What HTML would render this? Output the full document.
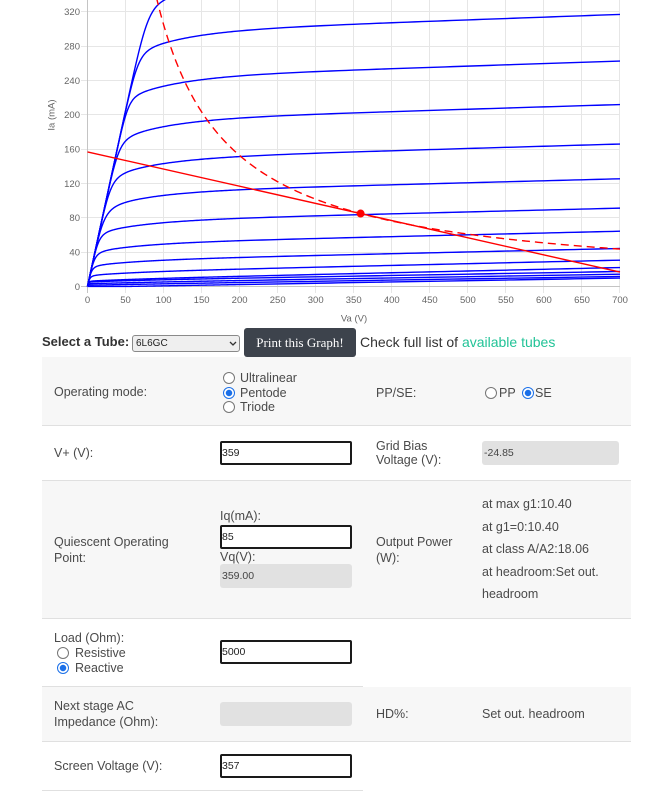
<!DOCTYPE html>
<html>
<head>
<meta charset="utf-8">
<style>
  html,body{margin:0;padding:0;}
  body{width:670px;height:791px;position:relative;overflow:hidden;background:#fff;font-family:"Liberation Sans",Arial,sans-serif;}
  .t{position:absolute;font-size:12.5px;line-height:14px;color:#4a4a4a;white-space:nowrap;}
  .row{position:absolute;left:42px;}
  .bg{background:#f7f7f7;}
  .bl{position:absolute;height:1px;background:#e0e0e0;}
  .inp{position:absolute;width:132px;height:24px;box-sizing:border-box;border:2px solid #1a1a1a;border-radius:2px;background:#fff;font-size:10.5px;line-height:20px;color:#222;padding-left:0px;}
  .gry{position:absolute;height:24px;box-sizing:border-box;border-radius:3px;background:#e1e1e1;font-size:10.5px;line-height:24px;color:#444;padding-left:2px;}
  .rd{position:absolute;width:12px;height:12px;box-sizing:border-box;border:1px solid #767676;border-radius:50%;background:#fff;}
  .rd.on{border:1.5px solid #1a6fe8;background:radial-gradient(circle at center,#1a6fe8 0,#1a6fe8 2.9px,#fff 3.5px);}
</style>
</head>
<body>

<svg id="ch" width="670" height="330" style="position:absolute;left:0;top:0" xmlns="http://www.w3.org/2000/svg"></svg>

<!-- Controls row -->
<div class="t" style="left:42px;top:334px;font-size:13px;line-height:16px;font-weight:bold;color:#333;">Select a Tube:</div>
<div style="position:absolute;left:132px;top:335px;width:108px;height:17px;box-sizing:border-box;border:1px solid #8a8a8a;border-radius:3px;background:#efefef;">
  <div style="position:absolute;left:3px;top:0;font-size:10px;line-height:15px;color:#222;">6L6GC</div>
  <svg width="8" height="6" style="position:absolute;left:96px;top:5px"><polyline points="1,1 4,4 7,1" fill="none" stroke="#333" stroke-width="1.3"/></svg>
</div>
<div style="position:absolute;left:244px;top:328px;width:112px;height:29px;background:#3d434c;border-radius:3px;color:#fff;font-family:'Liberation Serif',serif;font-size:13px;line-height:29px;text-align:center;">Print this Graph!</div>
<div class="t" style="left:360px;top:334px;font-size:14px;line-height:16px;color:#333;">Check full list of <span style="color:#22c397;">available tubes</span></div>

<!-- Row backgrounds -->
<div class="row bg" style="top:357px;width:589px;height:68px;"></div>
<div class="bl" style="left:42px;top:425px;width:589px;"></div>
<div class="bl" style="left:42px;top:480px;width:589px;"></div>
<div class="row bg" style="top:481px;width:589px;height:137px;"></div>
<div class="bl" style="left:42px;top:618px;width:589px;"></div>
<div class="bl" style="left:42px;top:686px;width:321px;"></div>
<div class="row bg" style="top:687px;width:589px;height:54px;"></div>
<div class="bl" style="left:42px;top:741px;width:589px;"></div>
<div class="bl" style="left:42px;top:790px;width:321px;"></div>

<!-- Row 1 -->
<div class="t" style="left:54px;top:385px;">Operating mode:</div>
<div class="rd" style="left:223px;top:372px;"></div>
<div class="rd on" style="left:223px;top:387px;"></div>
<div class="rd" style="left:223px;top:401px;"></div>
<div class="t" style="left:240px;top:371px;">Ultralinear</div>
<div class="t" style="left:240px;top:386px;">Pentode</div>
<div class="t" style="left:240px;top:400px;">Triode</div>
<div class="t" style="left:376px;top:386px;">PP/SE:</div>
<div class="rd" style="left:485px;top:387px;"></div>
<div class="t" style="left:499px;top:386px;">PP</div>
<div class="rd on" style="left:522px;top:387px;"></div>
<div class="t" style="left:535px;top:386px;">SE</div>

<!-- Row 2 -->
<div class="t" style="left:54px;top:446px;">V+ (V):</div>
<div class="inp" style="left:220px;top:441px;">359</div>
<div class="t" style="left:376px;top:439px;">Grid Bias</div>
<div class="t" style="left:376px;top:453px;">Voltage (V):</div>
<div class="gry" style="left:482px;top:441px;width:137px;">-24.85</div>

<!-- Row 3 -->
<div class="t" style="left:54px;top:535px;">Quiescent Operating</div>
<div class="t" style="left:54px;top:551px;">Point:</div>
<div class="t" style="left:220px;top:509px;">Iq(mA):</div>
<div class="inp" style="left:220px;top:525px;">85</div>
<div class="t" style="left:220px;top:550px;">Vq(V):</div>
<div class="gry" style="left:220px;top:564px;width:132px;">359.00</div>
<div class="t" style="left:376px;top:535px;">Output Power</div>
<div class="t" style="left:376px;top:551px;">(W):</div>
<div class="t" style="left:482px;top:497px;">at max g1:10.40</div>
<div class="t" style="left:482px;top:520px;">at g1=0:10.40</div>
<div class="t" style="left:482px;top:542px;">at class A/A2:18.06</div>
<div class="t" style="left:482px;top:565px;">at headroom:Set out.</div>
<div class="t" style="left:482px;top:587px;">headroom</div>

<!-- Row 4 -->
<div class="t" style="left:54px;top:631px;">Load (Ohm):</div>
<div class="rd" style="left:57px;top:647px;"></div>
<div class="t" style="left:75px;top:646px;">Resistive</div>
<div class="rd on" style="left:57px;top:662px;"></div>
<div class="t" style="left:75px;top:661px;">Reactive</div>
<div class="inp" style="left:220px;top:640px;">5000</div>

<!-- Row 5 -->
<div class="t" style="left:54px;top:699px;">Next stage AC</div>
<div class="t" style="left:54px;top:715px;">Impedance (Ohm):</div>
<div class="gry" style="left:220px;top:702px;width:132px;"></div>
<div class="t" style="left:376px;top:707px;">HD%:</div>
<div class="t" style="left:482px;top:707px;">Set out. headroom</div>

<!-- Row 6 -->
<div class="t" style="left:54px;top:759px;">Screen Voltage (V):</div>
<div class="inp" style="left:220px;top:754px;">357</div>

<script>
(function(){
var NS='http://www.w3.org/2000/svg', svg=document.getElementById('ch');
function X(v){return 87.5+v*0.760714;}
function Y(i){return 286.5-i*0.858333;}
function el(n,a,p){var e=document.createElementNS(NS,n);for(var k in a)e.setAttribute(k,a[k]);(p||svg).appendChild(e);return e;}
var k,x,y;
// grid
for(k=1;k<=14;k++){x=Math.round(X(k*50)-0.5)+0.5;el('line',{x1:x,y1:-60,x2:x,y2:293,stroke:'#e6e6e6','stroke-width':1});}
for(k=1;k<=10;k++){y=Math.round(Y(k*40)-0.5)+0.5;el('line',{x1:81,y1:y,x2:620,y2:y,stroke:'#e6e6e6','stroke-width':1});}
el('line',{x1:87.5,y1:-60,x2:87.5,y2:293,stroke:'#c4c4c4','stroke-width':1});
el('line',{x1:81,y1:286.5,x2:620,y2:286.5,stroke:'#c4c4c4','stroke-width':1});
// tick labels
for(k=0;k<=8;k++){var t=el('text',{x:80,y:(Y(k*40)+3.4).toFixed(1),'text-anchor':'end','font-size':'9.5px','font-family':'Liberation Sans, Arial, sans-serif',fill:'#666'});t.textContent=String(k*40);}
for(k=0;k<=14;k++){var t2=el('text',{x:X(k*50).toFixed(1),y:303,'text-anchor':'middle','font-size':'9.5px','font-family':'Liberation Sans, Arial, sans-serif',fill:'#666'});t2.textContent=String(k*50);}
var ty=el('text',{x:51,y:118.3,'text-anchor':'middle','font-size':'9.5px','font-family':'Liberation Sans, Arial, sans-serif',fill:'#666',transform:'rotate(-90 51 115)'});ty.textContent='Ia (mA)';
var tx=el('text',{x:354,y:321.5,'text-anchor':'middle','font-size':'9.5px','font-family':'Liberation Sans, Arial, sans-serif',fill:'#666'});tx.textContent='Va (V)';
// curves
var C=[[260,358,700,373,12],[260,303,700,317,12],[260,249.8,700,262.6,12],[260,200,700,212,8],[260,154.6,700,166,6],[260,115.3,700,125.5,4],[260,81.6,700,91.3,4],[260,55.2,700,64.4,3],[280,35.8,700,44.3,2.5],[280,22.1,700,30.7,2],[280,13.6,700,22.1,2],[280,11,700,17.5,2],[280,8.2,700,14.4,2],[280,5.8,700,11.7,2],[280,3.5,700,9.8,2]];
var vs=[],v;
for(v=0;v<4;v+=0.25)vs.push(v);
for(v=4;v<20;v+=0.5)vs.push(v);
for(v=20;v<100;v+=1)vs.push(v);
for(v=100;v<200;v+=2)vs.push(v);
for(v=200;v<=700;v+=10)vs.push(v);
C.forEach(function(c){
  var b=(c[3]-c[1])/(c[2]-c[0]),a=c[1]-b*c[0],n=c[4],d='';
  vs.forEach(function(v,i){
    var I;
    if(v==0)I=0;else{
      var P=Math.max(a+b*v,0.05)*(1-0.211*Math.exp(-v/67.7));
      var L=4.1*v;
      I=Math.pow(Math.pow(L,-n)+Math.pow(P,-n),-1/n);
    }
    d+=(i?'L':'M')+X(v).toFixed(2)+' '+Y(I).toFixed(2);
  });
  el('path',{d:d,fill:'none',stroke:'#0000ff','stroke-width':1.4,'stroke-linejoin':'round'});
});
// load line
el('line',{x1:X(0),y1:Y(156.8),x2:X(700),y2:Y(16.8),stroke:'#ff0000','stroke-width':1.4});
// dissipation hyperbola
var d2='';for(v=80,k=0;v<=700;v+=2,k++){d2+=(k?'L':'M')+X(v).toFixed(2)+' '+Y(30515/v).toFixed(2);}
el('path',{d:d2,fill:'none',stroke:'#ff0000','stroke-width':1.4,'stroke-dasharray':'8,5'});
// operating point
el('circle',{cx:X(359),cy:Y(85),r:4,fill:'#ff0000'});
})();
</script>
</body>
</html>
